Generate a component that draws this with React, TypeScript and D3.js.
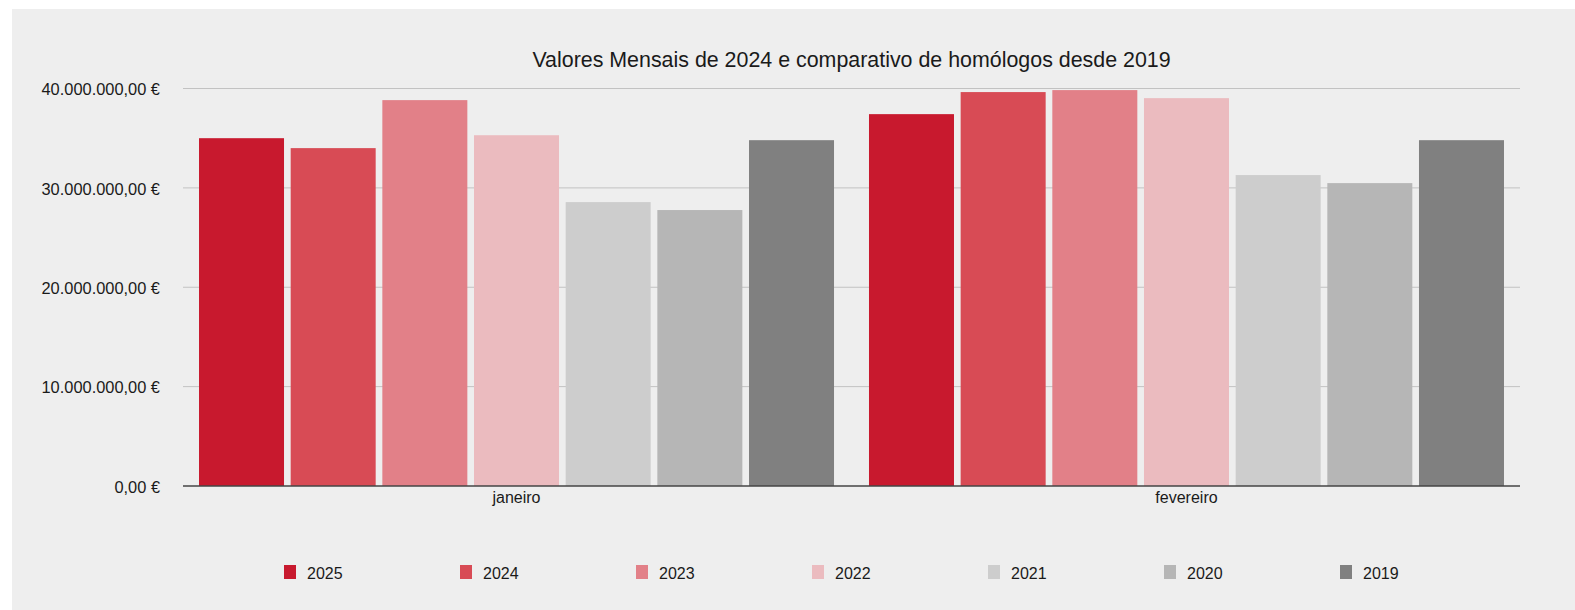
import React from "react";
import * as d3 from "d3";

const months = ["janeiro", "fevereiro"];
const series = ["2025", "2024", "2023", "2022", "2021", "2020", "2019"];
const colors = ["#C8192E", "#D84B55", "#E28088", "#EBBBBF", "#CDCDCD", "#B6B6B6", "#808080"];
// values in euros, per series, [janeiro, fevereiro]
const v2025 = [35000000, 37420000];
const v2024 = [34000000, 39640000];
const v2023 = [38830000, 39840000];
const v2022 = [35300000, 39030000];
const v2021 = [28570000, 31290000];
const v2020 = [27770000, 30480000];
const v2019 = [34800000, 34800000];
const values = [v2025, v2024, v2023, v2022, v2021, v2020, v2019];
const yTicks = [0, 10000000, 20000000, 30000000, 40000000];
const title = "Valores Mensais de 2024 e comparativo de homólogos desde 2019";

const W = 1575;
const H = 610;
const plot = { left: 183, right: 1520, top: 88.5, bottom: 486 };
const FONT = "'Liberation Sans', Arial, Helvetica, sans-serif";

const fmt = (v: number) => {
  const s = v.toFixed(2);
  const [int, dec] = s.split(".");
  const intF = int.replace(/\B(?=(\d{3})+(?!\d))/g, ".");
  return `${intF},${dec} €`;
};

export default function App() {
  const y = d3.scaleLinear().domain([0, 40000000]).range([plot.bottom, plot.top]);
  const x0 = d3
    .scaleBand<string>()
    .domain(months)
    .range([plot.left, plot.right])
    .paddingInner(0.0522)
    .paddingOuter(0.0239);
  const x1 = d3
    .scaleBand<string>()
    .domain(series)
    .range([0, x0.bandwidth()])
    .paddingInner(0.0727)
    .paddingOuter(0);

  const legendX = d3.scaleLinear().domain([0, 1]).range([284, 460]);

  return (
    <svg
      width={W}
      height={H}
      style={{ position: "absolute", left: 0, top: 0 }}
      fontFamily={FONT}
    >
      <rect x={12} y={9} width={W - 12} height={H - 9} fill="#EEEEEE" />
      <text x={(plot.left + plot.right) / 2} y={67} textAnchor="middle" fontSize={21.4} fill="#1a1a1a">
        {title}
      </text>
      {yTicks.map((t) => (
        <g key={t}>
          {t !== 0 && (
            <line
              x1={plot.left}
              x2={plot.right}
              y1={y(t)}
              y2={y(t)}
              stroke="#C2C2C2"
              strokeWidth={1}
            />
          )}
          <text x={160} y={y(t) + 6.8} textAnchor="end" fontSize={16.4} fill="#1a1a1a">
            {fmt(t)}
          </text>
        </g>
      ))}
      {months.map((m, mi) => (
        <g key={m} transform={`translate(${x0(m)},0)`}>
          {series.map((s, si) => {
            const v = values[si][mi];
            return (
              <rect
                key={s}
                x={x1(s)}
                y={y(v)}
                width={x1.bandwidth()}
                height={y(0) - y(v)}
                fill={colors[si]}
              />
            );
          })}
        </g>
      ))}
      <line x1={plot.left} x2={plot.right} y1={y(0)} y2={y(0)} stroke="#444444" strokeWidth={1.5} />
      {months.map((m) => (
        <text
          key={m}
          x={(x0(m) as number) + x0.bandwidth() / 2}
          y={503}
          textAnchor="middle"
          fontSize={16}
          fill="#1a1a1a"
        >
          {m}
        </text>
      ))}
      {series.map((s, si) => (
        <g key={s} transform={`translate(${legendX(si)},0)`}>
          <rect x={0} y={565} width={12} height={14} fill={colors[si]} />
          <text x={23} y={578.5} fontSize={16} fill="#1a1a1a">
            {s}
          </text>
        </g>
      ))}
    </svg>
  );
}
